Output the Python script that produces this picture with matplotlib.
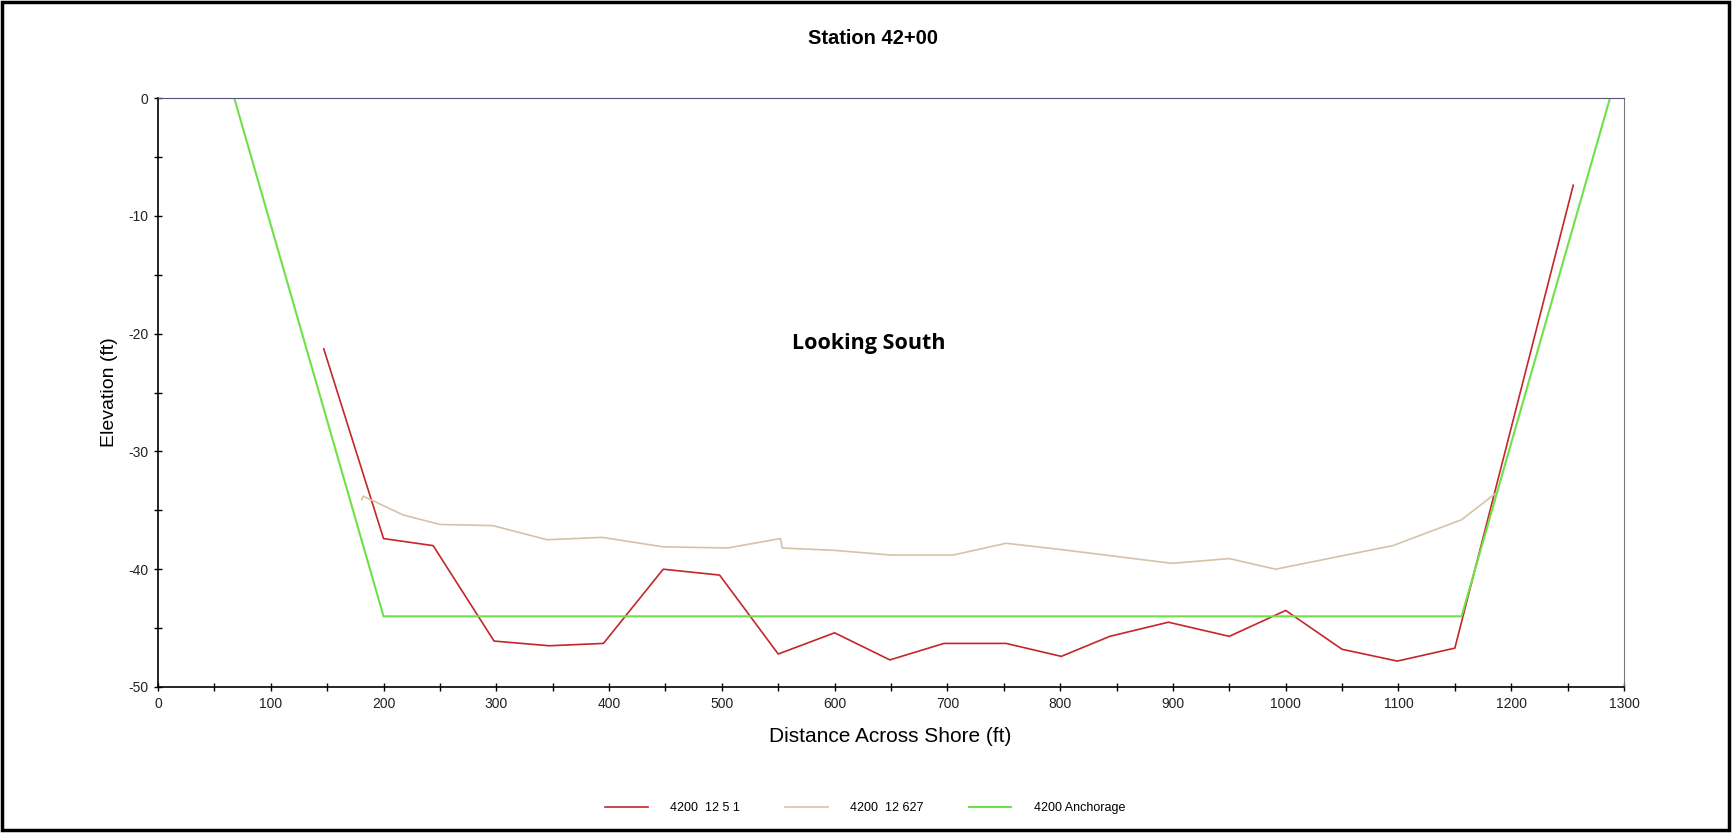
import numpy as np
import matplotlib
matplotlib.use("Agg")
import matplotlib.pyplot as plt
from matplotlib.patches import Rectangle
from matplotlib.ticker import MultipleLocator

# Survey profiles (distance across shore in ft, elevation in ft)
survey_1_x = [147, 200, 244, 298, 347, 395, 448, 498, 550, 600, 649, 697, 752, 801,
              844, 896, 950, 1000, 1050, 1099, 1150, 1255]
survey_1_y = [-21.3, -37.4, -38.0, -46.1, -46.5, -46.3, -40.0, -40.5, -47.2, -45.4, -47.7, -46.3,
              -46.3, -47.4, -45.7, -44.5, -45.7, -43.5, -46.8, -47.8, -46.7, -7.4]

survey_2_x = [180.5, 182, 217.5, 250, 297, 345, 394, 448, 505, 552, 553.5, 600, 650, 705,
              752, 798, 899, 950, 991, 1095, 1156, 1187]
survey_2_y = [-34.1, -33.8, -35.4, -36.2, -36.3, -37.5, -37.3, -38.1, -38.2, -37.4, -38.2, -38.4,
              -38.8, -38.8, -37.8, -38.3, -39.5, -39.1, -40.0, -38.0, -35.8, -33.5]

anchorage_x = [67.6, 200, 1156, 1287.6]
anchorage_y = [0, -44.0, -44.0, 0]

labels = ["4200  12 5 1", "4200  12 627", "4200 Anchorage"]
colors = ["#c4262b", "#d5c3a8", "#6ee048"]

plt.rcParams['font.family'] = ['Liberation Sans', 'DejaVu Sans']
plt.rcParams['axes.unicode_minus'] = False

fig = plt.figure(figsize=(17.32, 8.33), dpi=100)
ax = fig.add_axes([158 / 1732, 1 - 687 / 833, (1624 - 158) / 1732, (687 - 98) / 833])

ax.plot(survey_1_x, survey_1_y, color=colors[0], lw=1.2, label=labels[0])
ax.plot(survey_2_x, survey_2_y, color=colors[1], lw=1.2, label=labels[1])
ax.plot(anchorage_x, anchorage_y, color=colors[2], lw=1.5, label=labels[2])

ax.set_xlim(0, 1300)
ax.set_ylim(-50, 0)
ax.xaxis.set_major_locator(MultipleLocator(100))
ax.xaxis.set_minor_locator(MultipleLocator(50))
ax.yaxis.set_major_locator(MultipleLocator(10))
ax.yaxis.set_minor_locator(MultipleLocator(5))
ax.tick_params(which='both', direction='inout', length=6, width=1, labelsize=10,
               labelcolor='#222222', pad=4)

ax.spines['top'].set_color('#55557a')
ax.spines['right'].set_color('#777777')
for s in ['left', 'bottom']:
    ax.spines[s].set_linewidth(1.2)

ax.text(630, -20.8, "Looking South", ha='center', va='center', fontsize=15.5,
        fontweight='bold', family=['Open Sans', 'DejaVu Sans'])

fig.text(0.504, 1 - 38 / 833, "Station 42+00", ha='center', va='center',
         fontsize=14.5, fontweight='bold')
fig.text(890 / 1732, 1 - 736 / 833, "Distance Across Shore (ft)", ha='center', va='center',
         fontsize=15)
fig.text(109 / 1732, 1 - 392 / 833, "Elevation (ft)", ha='center', va='center',
         fontsize=14, rotation=90)

fig.legend(loc='center', bbox_to_anchor=(0.4995, 1 - 808 / 833), ncol=3, frameon=False,
           fontsize=9, handlelength=3.4, columnspacing=3.6, handletextpad=1.8)

# outer frame around the whole picture
fig.patches.append(Rectangle((0.001, 0.004), 0.997, 0.993, transform=fig.transFigure,
                             fill=False, edgecolor='black', lw=2.5))

plt.savefig("out.png", dpi=100)
